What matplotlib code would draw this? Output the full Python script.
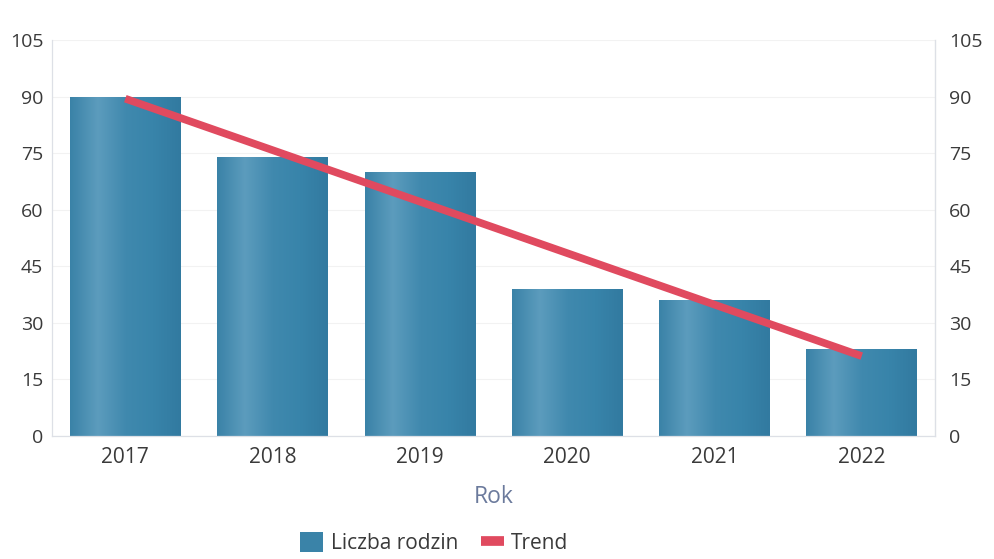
import matplotlib
matplotlib.use("Agg")
import matplotlib.pyplot as plt
import numpy as np
from matplotlib.colors import LinearSegmentedColormap
from matplotlib.patches import Patch
from matplotlib.lines import Line2D

plt.rcParams['font.family'] = ['Open Sans', 'DejaVu Sans']

years = ['2017', '2018', '2019', '2020', '2021', '2022']
liczba_rodzin = [90, 74, 70, 39, 36, 23]
trend_years = ['2017', '2022']
trend_values = [89.5, 21.2]
y_ticks = [0, 15, 30, 45, 60, 75, 90, 105]
x_title = 'Rok'
bar_label = 'Liczba rodzin'
trend_label = 'Trend'

bar_color = '#3a83a8'
trend_color = '#e04a5f'
text_color = '#3a3a3a'

fig = plt.figure(figsize=(9.94, 5.59), dpi=100)
ax = fig.add_axes([0.052, 0.22, 0.889, 0.708])

x = np.arange(len(years))
bars = ax.bar(x, liczba_rodzin, width=0.75, color=bar_color, zorder=2)

# subtle cylinder-like sheen on each bar
cmap = LinearSegmentedColormap.from_list(
    'sheen', ['#3a82a7', '#5c9cbd', '#4089ae', '#3884aa', '#327aa0'])
grad = np.linspace(0, 1, 256).reshape(1, -1)
for b in bars:
    x0, y0 = b.get_x(), b.get_y()
    w, h = b.get_width(), b.get_height()
    im = ax.imshow(grad, cmap=cmap, aspect='auto', extent=(x0, x0 + w, y0, y0 + h),
                   zorder=2.1, interpolation='bicubic')
    im.set_clip_path(b)

tx = [years.index(t) for t in trend_years]
ax.plot(tx, trend_values, color=trend_color, lw=5.5, solid_capstyle='butt', zorder=3)

ax.set_xlim(-0.5, len(years) - 0.5)
ax.set_ylim(0, 105)
ax.set_yticks(y_ticks)
ax.set_xticks(x)
ax.set_xticklabels(years)
ax.tick_params(axis='y', length=0, labelsize=14, colors=text_color, pad=6)
ax.tick_params(axis='x', length=0, labelsize=15, colors=text_color, pad=8)
ax.grid(axis='y', color='#f2f2f2', lw=0.8, zorder=0)
ax.set_axisbelow(True)
ax.spines['top'].set_visible(False)
for s in ['left', 'right', 'bottom']:
    ax.spines[s].set_color('#dde0e6')
    ax.spines[s].set_linewidth(0.9)

ax2 = ax.twinx()
ax2.set_ylim(0, 105)
ax2.set_yticks(y_ticks)
ax2.tick_params(axis='y', length=0, labelsize=14, colors=text_color, pad=10)
for s in ['top', 'left', 'bottom']:
    ax2.spines[s].set_visible(False)
ax2.spines['right'].set_color('#dde0e6')

ax.set_xlabel(x_title, fontsize=16.5, color='#6b7a9c', labelpad=12)

handles = [Patch(facecolor=bar_color, edgecolor='none'),
           Line2D([], [], color=trend_color, lw=7, solid_capstyle='butt')]
fig.legend(handles, [bar_label, trend_label], loc='lower center',
           bbox_to_anchor=(0.437, -0.025), ncol=2, frameon=False,
           fontsize=15, handlelength=1.1, handleheight=1.1, handletextpad=0.35,
           columnspacing=1.1, labelcolor=text_color)

fig.savefig('out.png', dpi=100)
